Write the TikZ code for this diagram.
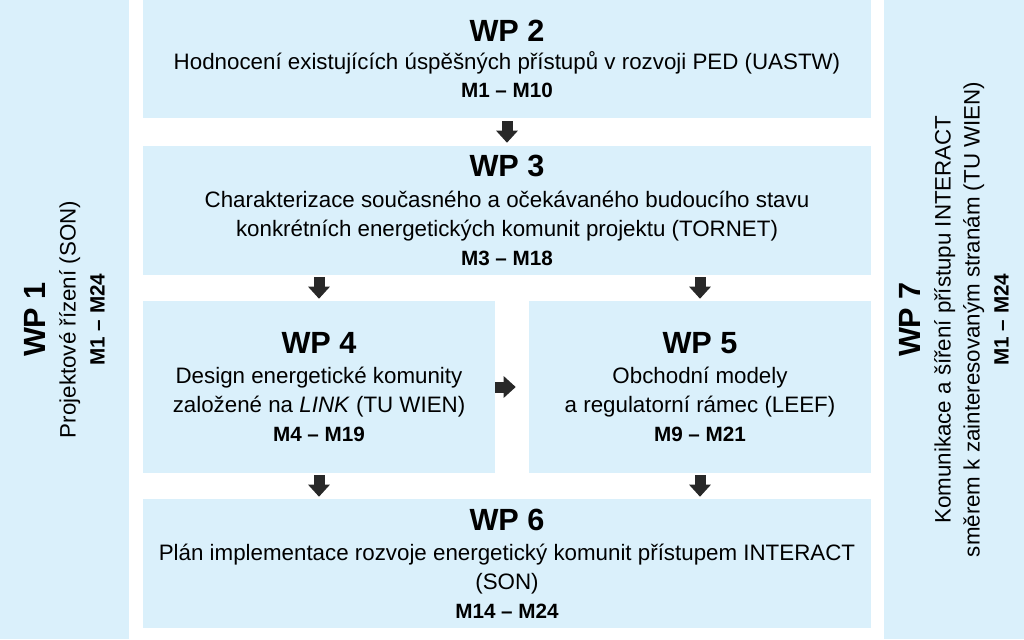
\documentclass[tikz,border=0pt]{standalone}
\usepackage{fontspec}
\setmainfont{Liberation Sans}
\usetikzlibrary{arrows.meta}
\definecolor{boxBlue}{RGB}{218,240,251}
\definecolor{arrowGray}{RGB}{40,40,40}
\newcommand{\wptitle}[1]{{\fontsize{23}{27}\selectfont\bfseries #1}}
\newcommand{\wpmonths}[1]{{\fontsize{15.5}{18}\selectfont\bfseries #1}}

\begin{document}
\begin{tikzpicture}[x=0.75pt, y=-0.75pt,
    wpbox/.style={fill=boxBlue, inner sep=0pt, align=center,
        font=\fontsize{16.75}{21.75}\selectfont},
    flow/.style={arrowGray, line width=8.25pt,
        -{Triangle[length=9pt, width=15.75pt]}}]
  % plocha obrazku
  \useasboundingbox (0,0) rectangle (1024,639);

  % postranni pracovni balicky
  \node[wpbox, rotate=90, minimum width=479.25pt, minimum height=96.75pt] (wp1) at (64.5,319.5) {
      \wptitle{WP 1}\\[1pt]
      Projektové řízení (SON)\\
      \wpmonths{M1 – M24}
  };
  \node[wpbox, rotate=90, minimum width=479.25pt, minimum height=105pt] (wp7) at (954,319.5) {
      \wptitle{WP 7}\\[1pt]
      Komunikace a šíření přístupu INTERACT\\
      směrem k zainteresovaným stranám (TU WIEN)\\
      \wpmonths{M1 – M24}
  };

  % hlavni tok
  \node[wpbox, minimum width=546pt, minimum height=88.5pt] (wp2) at (507,59) {
      \wptitle{WP 2}\\[-1pt]
      Hodnocení existujících úspěšných přístupů v rozvoji PED (UASTW)\\[-1pt]
      \wpmonths{M1 – M10}
  };
  \node[wpbox, minimum width=546pt, minimum height=96.75pt] (wp3) at (507,210.5) {
      \wptitle{WP 3}\\[1pt]
      Charakterizace současného a očekávaného budoucího stavu\\
      konkrétních energetických komunit projektu (TORNET)\\
      \wpmonths{M3 – M18}
  };
  \node[wpbox, minimum width=264pt, minimum height=129pt] (wp4) at (319,387) {
      \wptitle{WP 4}\\[1pt]
      Design energetické komunity\\
      založené na \textit{LINK} (TU WIEN)\\
      \wpmonths{M4 – M19}
  };
  \node[wpbox, minimum width=256.5pt, minimum height=129pt] (wp5) at (700,387) {
      \wptitle{WP 5}\\[1pt]
      Obchodní modely\\
      a regulatorní rámec (LEEF)\\
      \wpmonths{M9 – M21}
  };
  \node[wpbox, minimum width=546pt, minimum height=96.75pt] (wp6) at (507,563.5) {
      \wptitle{WP 6}\\[1pt]
      Plán implementace rozvoje energetický komunit přístupem INTERACT\\
      (SON)\\
      \wpmonths{M14 – M24}
  };

  % sipky mezi balicky
  \draw[flow, shorten <=2.25pt, shorten >=2.25pt] (wp2) -- (wp3);
  \draw[flow, shorten <=1.5pt, shorten >=1.5pt] (wp3.south -| wp4.north) -- (wp4.north);
  \draw[flow, shorten <=1.5pt, shorten >=1.5pt] (wp3.south -| wp5.north) -- (wp5.north);
  \draw[flow, shorten >=9.75pt] (wp4.east) -- (wp5.west);
  \draw[flow, shorten <=1.5pt, shorten >=1.5pt] (wp4.south) -- (wp4.south |- wp6.north);
  \draw[flow, shorten <=1.5pt, shorten >=1.5pt] (wp5.south) -- (wp5.south |- wp6.north);
\end{tikzpicture}
\end{document}
